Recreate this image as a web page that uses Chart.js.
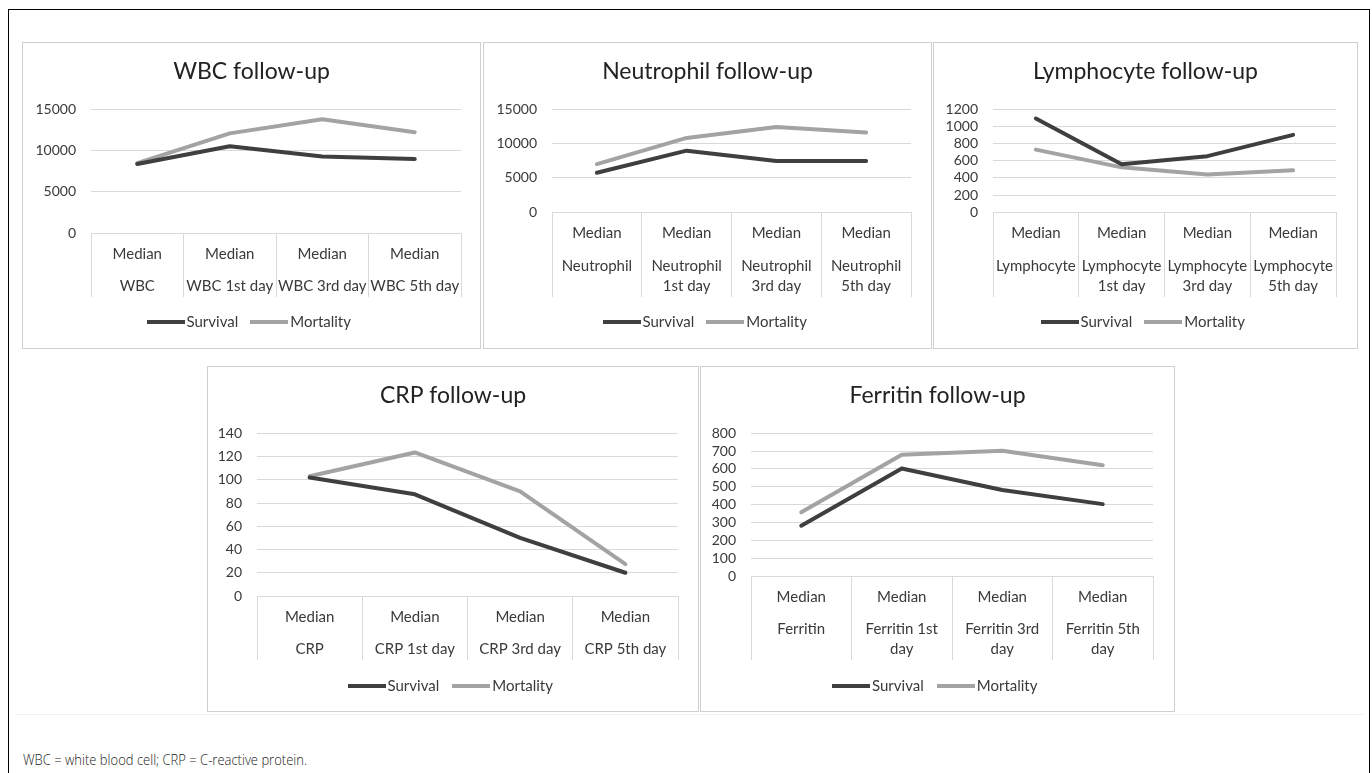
<!DOCTYPE html>
<html><head><meta charset="utf-8">
<script src="https://cdn.jsdelivr.net/npm/chart.js@4"></script>
<style>
html,body{margin:0;padding:0;background:#fff;}
body{width:1372px;height:773px;position:relative;overflow:hidden;font-family:Lato,sans-serif;}
#frame{position:absolute;left:8px;top:9px;width:1362px;height:800px;border:1px solid #000;border-bottom:none;box-sizing:border-box;}
#rule{position:absolute;left:15px;top:714px;width:1348px;height:1px;background:#efefef;}
.panel{position:absolute;border:1px solid #cfcfcf;box-sizing:border-box;background:#fff;}
.panel canvas{position:absolute;left:0;top:0;}
#caption{position:absolute;left:23px;top:749px;font:300 15px 'Open Sans',sans-serif;color:#222;white-space:nowrap;display:inline-block;transform-origin:0 50%;}
</style></head><body>
<div id="frame"></div>
<div id="rule"></div>
<div id="caption">WBC = white blood cell; CRP = C-reactive protein.</div>
<script>
// ---- data ----
const seriesNames = ["Survival", "Mortality"];
const medianRow = ["Median", "Median", "Median", "Median"];

const wbcCategories = ["WBC", "WBC 1st day", "WBC 3rd day", "WBC 5th day"];
const wbcSurvival = [8350, 10500, 9250, 8950];
const wbcMortality = [8450, 12050, 13750, 12200];

const neutrophilCategories = ["Neutrophil", ["Neutrophil", "1st day"], ["Neutrophil", "3rd day"], ["Neutrophil", "5th day"]];
const neutrophilSurvival = [5750, 8950, 7450, 7450];
const neutrophilMortality = [7000, 10800, 12400, 11600];

const lymphocyteCategories = ["Lymphocyte", ["Lymphocyte", "1st day"], ["Lymphocyte", "3rd day"], ["Lymphocyte", "5th day"]];
const lymphocyteSurvival = [1090, 558, 652, 900];
const lymphocyteMortality = [728, 522, 438, 488];

const crpCategories = ["CRP", "CRP 1st day", "CRP 3rd day", "CRP 5th day"];
const crpSurvival = [102, 87.5, 50, 20];
const crpMortality = [103, 123.5, 90, 27.5];

const ferritinCategories = ["Ferritin", ["Ferritin 1st", "day"], ["Ferritin 3rd", "day"], ["Ferritin 5th", "day"]];
const ferritinSurvival = [282, 603, 482, 403];
const ferritinMortality = [357, 680, 702, 621];

const wbcAxis = [0, 15000, 5000];
const neutrophilAxis = [0, 15000, 5000];
const lymphocyteAxis = [0, 1200, 200];
const crpAxis = [0, 140, 20];
const ferritinAxis = [0, 800, 100];

// ---- styles / layout ----
const SURV = '#3f3f3f', MORT = '#a3a3a3', GRID = '#d9d9d9', TXT = '#3a3a3a';
const FONT = 'Lato';

const panels = [
  {title: 'WBC follow-up', cats: wbcCategories, s: wbcSurvival, m: wbcMortality, axis: wbcAxis,
   box: [22, 42, 480, 348], chart: [91, 109, 461, 233], tableY: 297, titleY: 72, legendY: 322},
  {title: 'Neutrophil follow-up', cats: neutrophilCategories, s: neutrophilSurvival, m: neutrophilMortality, axis: neutrophilAxis,
   box: [483, 42, 931, 348], chart: [552, 109, 911, 212.3], tableY: 297, titleY: 72, legendY: 322},
  {title: 'Lymphocyte follow-up', cats: lymphocyteCategories, s: lymphocyteSurvival, m: lymphocyteMortality, axis: lymphocyteAxis,
   box: [933, 42, 1357, 348], chart: [993, 109, 1336, 212.3], tableY: 297, titleY: 72, legendY: 322},
  {title: 'CRP follow-up', cats: crpCategories, s: crpSurvival, m: crpMortality, axis: crpAxis,
   box: [207, 366, 698, 711], chart: [257, 433.3, 678, 596], tableY: 660, titleY: 396, legendY: 686},
  {title: 'Ferritin follow-up', cats: ferritinCategories, s: ferritinSurvival, m: ferritinMortality, axis: ferritinAxis,
   box: [700, 366, 1174, 711], chart: [751, 433.3, 1153, 576], tableY: 660, titleY: 396, legendY: 686}
];

// caption: fit to the reference width
(function () {
  const cap = document.getElementById('caption');
  const w = cap.getBoundingClientRect().width;
  if (w > 0) cap.style.transform = 'scaleX(' + (284 / w) + ')';
})();

// legend key: a flat line swatch
function lineSwatch(color) {
  const c = document.createElement('canvas');
  c.width = 38; c.height = 4;
  const g = c.getContext('2d');
  g.fillStyle = color;
  g.fillRect(0, 0, 38, 4);
  return c;
}
const SWATCH_BOX = 27; // 38 - 11 -> ~2px gap between key and text

function makePanel(p) {
  const [x0, y0, x1, y1] = p.box;
  const div = document.createElement('div');
  div.className = 'panel';
  div.style.left = x0 + 'px'; div.style.top = y0 + 'px';
  div.style.width = (x1 - x0 + 1) + 'px'; div.style.height = (y1 - y0 + 1) + 'px';
  const cv = document.createElement('canvas');
  const W = x1 - x0 - 1, H = y1 - y0 - 1;
  cv.width = W; cv.height = H;
  cv.style.width = W + 'px'; cv.style.height = H + 'px';
  div.appendChild(cv);
  document.body.appendChild(div);

  const ox = x0 + 1, oy = y0 + 1;
  const cx0 = p.chart[0] - ox, cx1 = p.chart[2] - ox, cy0 = p.chart[1] - oy;
  const padR = W - cx1;
  const TS = 23, TLH = TS * 1.2;
  const titleTop = p.titleY - oy - TLH / 2;
  const titleBottom = cy0 - titleTop - TLH;
  const H1 = 37;
  const H2 = (p.tableY - p.chart[3]) - H1;
  const LS = 15;
  const legPad = p.legendY - p.tableY - LS / 2;
  const legH = LS + legPad + 10;
  const padBottom = H - (p.tableY - oy) - legH;
  const tickFont = {family: FONT, size: 15, lineHeight: 20 / 15};

  const ds = (label, data, color) => ({
    label, data, borderColor: color, backgroundColor: color, borderWidth: 4,
    pointRadius: 0, pointHoverRadius: 0, tension: 0, pointStyle: lineSwatch(color),
    borderCapStyle: 'round', borderJoinStyle: 'round', xAxisID: 'x', yAxisID: 'y'
  });

  new Chart(cv, {
    type: 'line',
    data: {labels: medianRow, datasets: [ds(seriesNames[0], p.s, SURV), ds(seriesNames[1], p.m, MORT)]},
    options: {
      responsive: false, animation: false, events: [],
      layout: {padding: {left: 0, right: 0, top: 0, bottom: padBottom}},
      plugins: {
        title: {display: true, text: p.title, color: '#222', font: {family: FONT, size: TS, weight: 'normal', lineHeight: 1.2},
                padding: {top: titleTop, bottom: titleBottom}},
        legend: {display: true, position: 'bottom',
                 labels: {usePointStyle: true, pointStyleWidth: SWATCH_BOX, color: TXT, font: {family: FONT, size: LS}, padding: legPad}},
        tooltip: {enabled: false}
      },
      scales: {
        y: {min: p.axis[0], max: p.axis[1],
            afterFit: s => { s.width = cx0; },
            ticks: {stepSize: p.axis[2], autoSkip: false, maxTicksLimit: 100, padding: 15, color: TXT,
                    font: {family: FONT, size: 14, lineHeight: 1}, callback: v => String(v)},
            grid: {color: GRID, drawTicks: false, lineWidth: 1}, border: {display: false}},
        yr: {type: 'linear', position: 'right', min: p.axis[0], max: p.axis[1],
             afterFit: s => { s.width = padR; },
             ticks: {display: false}, grid: {display: false}, border: {display: false}},
        x: {type: 'category', position: 'bottom', labels: medianRow, offset: true, weight: 0,
            afterFit: s => { s.height = H1; },
            grid: {offset: true, drawOnChartArea: false, drawTicks: true, tickLength: H1, color: GRID},
            border: {display: false},
            ticks: {autoSkip: false, maxRotation: 0, minRotation: 0, padding: 21 - H1 - 10, color: TXT, font: tickFont}},
        x2: {type: 'category', position: 'bottom', labels: p.cats, offset: true, weight: 1,
             afterFit: s => { s.height = H2; },
             grid: {offset: true, drawOnChartArea: false, drawTicks: true, tickLength: H2, color: GRID},
             border: {display: false},
             ticks: {autoSkip: false, maxRotation: 0, minRotation: 0, padding: (53.5 - H1) - 10 - H2, color: TXT, font: tickFont}}
      }
    }
  });
}
panels.forEach(makePanel);
</script>
</body></html>
